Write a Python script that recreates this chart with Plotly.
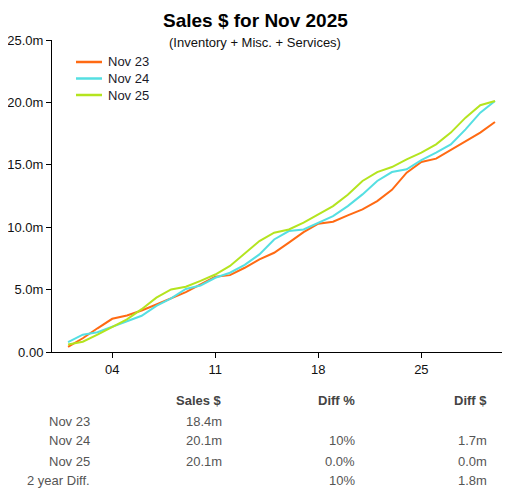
import plotly.graph_objects as go

# ============================================================
# Data
# ============================================================
days = list(range(1, 31))

nov23 = [0.42, 1.10, 1.90, 2.66, 2.93, 3.33, 3.81, 4.31, 4.80, 5.41,
         6.03, 6.16, 6.75, 7.42, 7.95, 8.76, 9.60, 10.28, 10.44, 10.95,
         11.43, 12.09, 12.99, 14.37, 15.22, 15.49, 16.18, 16.90, 17.58, 18.43]
nov24 = [0.80, 1.39, 1.59, 2.02, 2.47, 2.90, 3.70, 4.30, 5.05, 5.33,
         5.95, 6.35, 6.98, 7.82, 9.02, 9.69, 9.82, 10.36, 10.89, 11.69,
         12.63, 13.70, 14.42, 14.64, 15.38, 15.97, 16.64, 17.84, 19.18, 20.11]
nov25 = [0.60, 0.82, 1.40, 1.98, 2.61, 3.43, 4.35, 5.01, 5.23, 5.70,
         6.21, 6.90, 7.90, 8.89, 9.56, 9.82, 10.36, 11.03, 11.69, 12.60,
         13.70, 14.42, 14.82, 15.44, 15.97, 16.64, 17.58, 18.78, 19.77, 20.11]

series_names = ["Nov 23", "Nov 24", "Nov 25"]
series_colors = ["#ff6a13", "#55dfe2", "#b4e41f"]

x_tickvals = [4, 11, 18, 25]
x_ticktext = ["04", "11", "18", "25"]
y_tickvals = [0, 5, 10, 15, 20, 25]
y_ticktext = ["0.00", "5.0m", "10.0m", "15.0m", "20.0m", "25.0m"]

# summary table under the chart
table_header = ["Sales $", "Diff %", "Diff $"]
table_rows = ["Nov 23", "Nov 24", "Nov 25", "2 year Diff."]
table_sales = ["18.4m", "20.1m", "20.1m", ""]
table_diff_pct = ["", "10%", "0.0%", "10%"]
table_diff_amt = ["", "1.7m", "0.0m", "1.8m"]

# ============================================================
# Layout geometry (page pixels; the html body adds an 8px margin)
# ============================================================
OFF = 8
W, H = 510 - OFF, 498 - OFF
M_L, M_R, M_T, M_B = 52 - OFF, 0, 40 - OFF, 498 - 352
plot_w = W - M_L - M_R
plot_h = H - M_T - M_B

FONT = "Arial, Liberation Sans, sans-serif"


def px(pix):
    # page pixel column -> paper x
    return (pix - OFF - M_L) / plot_w


def py(pix):
    # page pixel row -> paper y
    return (H - M_B - (pix - OFF)) / plot_h


fig = go.Figure()
for name, vals, col in zip(series_names, [nov23, nov24, nov25], series_colors):
    fig.add_trace(go.Scatter(x=days, y=vals, mode="lines", name=name,
                             line=dict(color=col, width=2), showlegend=False))

ann = []
shapes = []
ann.append(dict(text="<b>Sales $ for Nov 2025</b>", x=px(255), y=py(20),
                font=dict(size=19, color="#000", family=FONT)))
ann.append(dict(text="(Inventory + Misc. + Services)", x=px(255), y=py(43),
                font=dict(size=13, color="#111", family=FONT)))

# legend (drawn by hand to get the tight row spacing)
for i, (name, col) in enumerate(zip(series_names, series_colors)):
    ly = py(62 + 16.5 * i)
    shapes.append(dict(type="line", xref="paper", yref="paper",
                       x0=px(76), x1=px(102), y0=ly, y1=ly,
                       line=dict(color=col, width=2.5)))
    ann.append(dict(text=name, x=px(106), y=ly, xanchor="left",
                    font=dict(size=13, color="#1a1a2a", family=FONT)))

col_right = [224, 357, 489]
for txt, cx in zip(table_header, col_right):
    ann.append(dict(text="<b>" + txt + "</b>", x=px(cx), y=py(401), xanchor="right",
                    font=dict(size=13, color="#444", family=FONT)))
for i, lab in enumerate(table_rows):
    yy = py(421 + 20 * i)
    ann.append(dict(text=lab, x=px(92), y=yy, xanchor="right",
                    font=dict(size=13, color="#555", family=FONT)))
    for txt, cx in zip([table_sales[i], table_diff_pct[i], table_diff_amt[i]], col_right):
        if txt:
            ann.append(dict(text=txt, x=px(cx), y=yy, xanchor="right",
                            font=dict(size=13, color="#555", family=FONT)))

for a in ann:
    a.update(xref="paper", yref="paper", showarrow=False, yanchor="middle")
    a.setdefault("xanchor", "center")

fig.update_layout(
    width=W, height=H,
    margin=dict(l=M_L, r=M_R, t=M_T, b=M_B),
    paper_bgcolor="white", plot_bgcolor="white",
    font=dict(family=FONT, size=12, color="#111"),
    showlegend=False,
    annotations=ann,
    shapes=shapes,
    xaxis=dict(range=[-0.09, 31.02], tickvals=x_tickvals, ticktext=x_ticktext,
               showgrid=False, zeroline=False, showline=True, linecolor="#000",
               linewidth=1, ticks="outside", ticklen=5, tickcolor="#000",
               tickfont=dict(size=13, color="#111")),
    yaxis=dict(range=[0, 25], tickvals=y_tickvals, ticktext=y_ticktext,
               showgrid=False, zeroline=False, showline=True, linecolor="#000",
               linewidth=1, ticks="outside", ticklen=5, tickcolor="#000",
               tickfont=dict(size=13, color="#111")),
)

fig.write_html("out.html")
